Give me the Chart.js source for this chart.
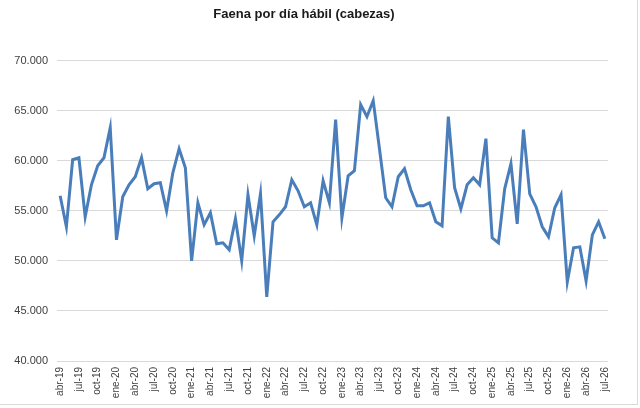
<!DOCTYPE html>
<html>
<head>
<meta charset="utf-8">
<script src="https://cdn.jsdelivr.net/npm/chart.js@4"></script>
<style>
    html, body { margin: 0; padding: 0; background: #fff; }
    #wrap {
        width: 637px;
        height: 404px;
        border-right: 1px solid #d9d9d9;
        border-bottom: 1px solid #d9d9d9;
    }
</style>
</head>
<body>
<div id="wrap"><canvas id="faenaChart" width="637" height="404"></canvas></div>
<script>
// Meses abr-19 .. jul-26
const monthNames = ['ene', 'feb', 'mar', 'abr', 'may', 'jun', 'jul', 'ago', 'sep', 'oct', 'nov', 'dic'];
const startYear = 19;
const startMonth = 3; // abr
const monthCount = 88;

// Faena por día hábil (cabezas)
const faena = [
    56500, 53400, 60100, 60300, 54400, 57600, 59500, 60300, 63300,          // abr-19 .. dic-19
    52100, 56400, 57600, 58400, 60300, 57200, 57700, 57800, 55000, 58800, 61200, 59300, // 2020
    50000, 55800, 53600, 54800, 51700, 51800, 51100, 54200, 50000, 56600, 52500, 56700, // 2021
    46400, 53900, 54600, 55400, 58100, 57000, 55400, 55800, 53600, 58000, 55800, 64100, // 2022
    54300, 58500, 59000, 65600, 64400, 66000, 61200, 56300, 55400, 58400, 59200, 57100, // 2023
    55500, 55500, 55800, 53900, 53500, 64400, 57300, 55200, 57600, 58300, 57600, 62200, // 2024
    52300, 51800, 57200, 59700, 53700, 63100, 56700, 55400, 53400, 52400, 55300, 56600, // 2025
    47900, 51300, 51400, 48000, 52600, 53900, 52200                                    // ene-26 .. jul-26
];

const yTicks = { min: 40000, max: 70000, step: 5000 };

const labels = [];
for (let i = 0; i < monthCount; i++) {
    const m = (startMonth + i) % 12;
    const y = startYear + Math.floor((startMonth + i) / 12);
    labels.push(`${monthNames[m]}-${y}`);
}

const fontFamily = "'Liberation Sans', Arial, sans-serif";

function formatMiles(v) {
    return String(v).replace(/\B(?=(\d{3})+(?!\d))/g, '.');
}

const ctx = document.getElementById('faenaChart').getContext('2d');
new Chart(ctx, {
    type: 'line',
    data: {
        labels: labels,
        datasets: [{
            label: 'Faena por día hábil',
            data: faena,
            borderColor: '#4a7ebb',
            borderWidth: 3,
            pointRadius: 0,
            tension: 0,
            fill: false
        }]
    },
    options: {
        responsive: false,
        animation: false,
        layout: {
            padding: { left: 0, right: 29, top: 0, bottom: 0 }
        },
        plugins: {
            legend: { display: false },
            tooltip: { enabled: false },
            title: {
                display: true,
                text: 'Faena por día hábil (cabezas)',
                color: '#1a1a1a',
                font: { family: fontFamily, size: 13, weight: 'bold' },
                padding: { top: 7, bottom: 38 }
            }
        },
        scales: {
            x: {
                offset: true,
                grid: { display: false, drawTicks: false },
                border: { display: false },
                ticks: {
                    autoSkip: false,
                    minRotation: 90,
                    maxRotation: 90,
                    padding: 6,
                    color: '#404040',
                    font: { family: fontFamily, size: 10 },
                    callback: function(value, index) {
                        return index % 3 === 0 ? labels[index] : '';
                    }
                },
                afterFit: function(scale) { scale.height = 43; }
            },
            y: {
                min: yTicks.min,
                max: yTicks.max,
                grid: { color: '#d9d9d9', lineWidth: 1, drawTicks: false },
                border: { display: false },
                ticks: {
                    stepSize: yTicks.step,
                    padding: 9,
                    color: '#404040',
                    font: { family: fontFamily, size: 11 },
                    callback: function(value) { return formatMiles(value); }
                },
                afterFit: function(scale) { scale.width = 57; }
            }
        }
    }
});
</script>
</body>
</html>
